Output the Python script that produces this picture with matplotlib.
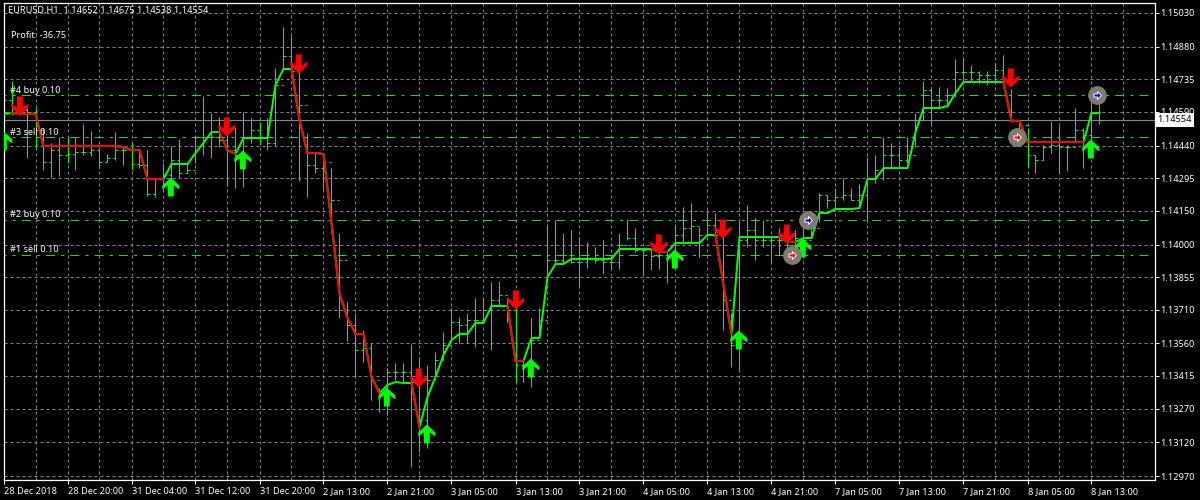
import numpy as np
import matplotlib
matplotlib.use("Agg")
import matplotlib.pyplot as plt
from matplotlib.path import Path

# All prices are in points (1e-5 of EURUSD)
high_pts = [
    114701, 114727, 114656, 114607, 114607, 114518, 114452, 114478, 114478, 114478,
    114536, 114505, 114420, 114403, 114500, 114434, 114452, 114420, 114420, 114296,
    114363, 114438, 114469, 114363, 114483, 114661, 114585, 114567, 114500, 114518,
    114590, 114563, 114545, 114563, 114785, 114968, 114928, 114772, 114496, 114407,
    114398, 114340, 114051, 113744, 113695, 113620, 113562, 113362, 113451, 113473,
    113473, 113557, 113500, 113464, 113522, 113611, 113718, 113678, 113695, 113762,
    113766, 113833, 113838, 113766, 113731, 113486, 113673, 113718, 114091, 114109,
    114051, 114065, 114033, 114011, 113989, 114020, 113944, 114051, 114113, 114073,
    113984, 113975, 113962, 113967, 114091, 114167, 114185, 114078, 114153, 114140,
    114042, 113695, 114109, 114176, 114118, 114109, 114033, 114073, 114011, 114065,
    114078, 114100, 114229, 114220, 114251, 114296, 114251, 114269, 114389, 114398,
    114478, 114452, 114434, 114478, 114585, 114727, 114701, 114701, 114696, 114825,
    114834, 114799, 114772, 114772, 114808, 114843, 114692, 114554, 114518, 114398,
    114443, 114550, 114527, 114443, 114607, 114518, 114701, 114675,
]
low_pts = [
    114376, 114576, 114576, 114385, 114429, 114332, 114296, 114305, 114363, 114332,
    114398, 114394, 114340, 114367, 114376, 114354, 114332, 114340, 114216, 114211,
    114242, 114234, 114296, 114318, 114363, 114398, 114385, 114434, 114260, 114251,
    114256, 114452, 114443, 114420, 114443, 114776, 114776, 114282, 114211, 114318,
    114242, 114051, 113673, 113571, 113411, 113477, 113308, 113255, 113241, 113397,
    113388, 113010, 113077, 113095, 113411, 113486, 113575, 113562, 113562, 113544,
    113651, 113531, 113731, 113651, 113388, 113388, 113366, 113584, 113855, 113918,
    113918, 113918, 113815, 113896, 113918, 113873, 113887, 113891, 114020, 113967,
    113869, 113887, 113891, 113829, 113944, 114007, 114007, 113944, 114042, 114033,
    113620, 113455, 113442, 113989, 113931, 113989, 113922, 113953, 113944, 113944,
    113984, 114029, 114100, 114162, 114153, 114198, 114198, 114162, 114100, 114274,
    114287, 114340, 114340, 114363, 114434, 114554, 114536, 114607, 114612, 114656,
    114723, 114723, 114719, 114710, 114723, 114710, 114545, 114509, 114345, 114318,
    114376, 114407, 114318, 114327, 114456, 114340, 114465, 114538,
]
close_pts = [
    114643, 114607, 114598, 114590, 114509, 114367, 114420, 114398, 114403, 114412,
    114412, 114420, 114367, 114385, 114420, 114420, 114358, 114354, 114225, 114296,
    114309, 114376, 114318, 114332, 114478, 114478, 114478, 114465, 114420, 114398,
    114478, 114509, 114478, 114452, 114710, 114839, 114772, 114621, 114354, 114340,
    114367, 114198, 113931, 113642, 113531, 113539, 113397, 113335, 113433, 113433,
    113433, 113388, 113219, 113397, 113486, 113553, 113655, 113642, 113664, 113664,
    113709, 113753, 113775, 113709, 113464, 113464, 113575, 113664, 113931, 113931,
    113953, 113922, 113922, 113940, 113931, 113922, 113922, 113998, 114029, 113975,
    113975, 113949, 113953, 113953, 114042, 114073, 114082, 114042, 114087, 114042,
    113753, 113553, 114020, 114065, 114020, 114020, 114020, 114020, 113998, 114029,
    114020, 114073, 114220, 114198, 114211, 114220, 114198, 114220, 114296, 114332,
    114398, 114398, 114376, 114398, 114554, 114687, 114643, 114643, 114665, 114768,
    114768, 114768, 114754, 114754, 114776, 114665, 114554, 114532, 114398, 114376,
    114434, 114443, 114434, 114434, 114509, 114487, 114652, 114554,
]
open_first_pts = 114620
signal_pts = [
    114581, 114585, 114581, 114581, 114581, 114438, 114438, 114438, 114438, 114438,
    114438, 114438, 114438, 114438, 114438, 114434, 114420, 114420, 114291, 114291,
    114291, 114358, 114358, 114358, 114407, 114452, 114500, 114500, 114420, 114403,
    114474, 114474, 114474, 114474, 114710, 114781, 114781, 114554, 114407, 114407,
    114403, 114096, 113784, 113673, 113602, 113602, 113411, 113339, 113375, 113388,
    113384, 113384, 113188, 113322, 113411, 113508, 113575, 113602, 113602, 113651,
    113651, 113726, 113726, 113726, 113482, 113482, 113584, 113584, 113855, 113913,
    113913, 113936, 113936, 113936, 113936, 113936, 113936, 113980, 113980, 113980,
    113980, 113980, 113967, 113967, 114007, 114007, 114007, 114007, 114042, 114042,
    113820, 113602, 114033, 114033, 114033, 114033, 114033, 114033, 114011, 114011,
    114029, 114029, 114140, 114140, 114158, 114158, 114158, 114162, 114291, 114291,
    114340, 114340, 114340, 114340, 114500, 114607, 114607, 114607, 114616, 114674,
    114723, 114723, 114723, 114723, 114723, 114723, 114550, 114550, 114456, 114456,
    114456, 114456, 114456, 114456, 114456, 114456, 114585, 114585,
]
# inclusive bar ranges where the signal line is red
red_spans = [(1, 20), (27, 29), (36, 47), (51, 52), (63, 65), (81, 83), (89, 91), (97, 99), (125, 135)]

down_bars = [2, 28, 37, 52, 64, 82, 90, 98, 126]
down_pts = [114576, 114483, 114763, 113366, 113713, 113962, 114029, 114007, 114700]
up_bars = [0, 21, 30, 48, 53, 66, 84, 92, 100, 136]
up_pts = [114505, 114300, 114420, 113366, 113201, 113495, 113980, 113620, 114029, 114469]

order_names = ["#1 sell 0.10", "#2 buy 0.10", "#3 sell 0.10", "#4 buy 0.10"]
order_pts = [113953, 114109, 114477, 114664]
order_bars = [98.55, 100.6, 126.65, 136.65]
order_colors = ["#ff0000", "#0000ff", "#ff0000", "#0000ff"]

price_ticks = [1.15030, 1.14880, 1.14735, 1.14590, 1.14440, 1.14295, 1.14150, 1.14000,
               1.13855, 1.13710, 1.13560, 1.13415, 1.13270, 1.13120, 1.12970]
time_labels = ["28 Dec 2018", "28 Dec 20:00", "31 Dec 04:00", "31 Dec 12:00", "31 Dec 20:00",
               "2 Jan 13:00", "2 Jan 21:00", "3 Jan 05:00", "3 Jan 13:00", "3 Jan 21:00",
               "4 Jan 05:00", "4 Jan 13:00", "4 Jan 21:00", "7 Jan 05:00", "7 Jan 13:00",
               "7 Jan 21:00", "8 Jan 05:00", "8 Jan 13:00"]
last_price = 1.14554
title_text = "EURUSD,H1  1.14652 1.14675 1.14538 1.14554"
profit_text = "Profit: -36.75"

FONT = "Noto Sans"
FS = 6.6
LIME = "#00ff00"
RED = "#ff0000"
GRID = "#778899"
ORDER = "#32cd32"
W, H = 1200, 500
X0, X1, Y0, Y1 = 3.5, 1154.5, 2.5, 479.5

high = np.array(high_pts) / 1e5
low = np.array(low_pts) / 1e5
close = np.array(close_pts) / 1e5
open_ = np.r_[open_first_pts, close_pts[:-1]] / 1e5
signal = np.array(signal_pts) / 1e5
bars = np.arange(len(high))

fig = plt.figure(figsize=(W / 100, H / 100), dpi=100, facecolor="black")
ax = fig.add_axes([X0 / W, 1 - Y1 / H, (X1 - X0) / W, (Y1 - Y0) / H], facecolor="black")
ax.set_xlim(0, (X1 - X0) / 8)
px = (1.15030 - 1.12970) / 463
ax.set_ylim(1.12970 - (Y1 - 476) * px, 1.15030 + (13 - Y0) * px)

# grid
ax.set_xticks(np.arange(0, 8 * len(time_labels), 8))
ax.set_xticklabels(time_labels, family=FONT, fontsize=FS, color="white", ha="left")
ax.yaxis.tick_right()
ax.set_yticks(price_ticks)
ax.set_yticklabels([f"{t:.5f}" for t in price_ticks], family=FONT, fontsize=FS, color="white")
ax.tick_params(axis="x", length=2.6, width=0.72, color="white", pad=2.8)
ax.tick_params(axis="y", length=2.6, width=0.72, color="white", pad=1.4)
grid_style = (0, (3, 3))
for k in np.arange(4, 144, 4):
    ax.axvline(k, color=GRID, lw=0.72, ls=grid_style, zorder=0)
for t in price_ticks:
    ax.axhline(t, color=GRID, lw=0.72, ls=grid_style, zorder=0)

for name in ("left", "right", "bottom", "top"):
    ax.spines[name].set_color("white")
    ax.spines[name].set_linewidth(0.9)

# order lines
for y in order_pts:
    ax.axhline(y / 1e5, color=ORDER, lw=0.72, ls=(7.1, (9, 6.2, 3, 6.1)), zorder=1)
ax.axhline(last_price, color=GRID, lw=0.8, zorder=1)

# OHLC bars
ax.vlines(bars, low, high, color=LIME, lw=0.72, zorder=2)
ax.hlines(open_, bars - 0.31, bars, color=LIME, lw=0.72, zorder=2)
ax.hlines(close, bars, bars + 0.31, color=LIME, lw=0.72, zorder=2)

# signal line
ax.plot(bars, signal, color=LIME, lw=1.45, solid_joinstyle="round", zorder=3)
for a, b in red_spans:
    ax.plot(bars[a:b + 1], signal[a:b + 1], color=RED, lw=1.45, solid_joinstyle="round", zorder=3)

# arrows
up_verts = [(0, 0), (8.5, -8), (8.5, -12), (3, -8), (3, -19), (-3, -19), (-3, -8), (-8.5, -12), (-8.5, -8), (0, 0)]
up_path = Path([(x - 0.7, y) for x, y in up_verts], closed=True)
down_path = Path([(x - 0.7, -y) for x, y in up_verts], closed=True)
ms = 2 * 19 * 72 / 100
ax.plot(up_bars, np.array(up_pts) / 1e5, ls="", marker=up_path, ms=ms, mfc=LIME, mew=0, zorder=5)
ax.plot(down_bars, np.array(down_pts) / 1e5, ls="", marker=down_path, ms=ms, mfc=RED, mew=0, zorder=5)

# order markers
right_path = Path([(-4.5, -2), (0, -2), (0, -5), (5, 0), (0, 5), (0, 2), (-4.5, 2), (-4.5, -2)], closed=True)
ax.plot(order_bars, np.array(order_pts) / 1e5, ls="", marker="o", ms=13.5, mfc="#807a70", mew=0, zorder=6)
for xb, y, c in zip(order_bars, order_pts, order_colors):
    ax.plot([xb], [y / 1e5], ls="", marker=right_path, ms=5.6, mfc=c, mec="white", mew=0.7, zorder=7)

# texts
for y, name in zip(order_pts, order_names):
    ax.annotate(name, (0, y / 1e5), xytext=(6.5 / 100 * 72, 0.5), textcoords="offset points",
                family=FONT, fontsize=FS, color="white", va="bottom", ha="left", zorder=8)
fig.text(7.5 / W, 1 - 10.5 / H, title_text, family=FONT, fontsize=FS, color="white", va="center", ha="left")
fig.text(10.5 / W, 1 - 35.5 / H, profit_text, family=FONT, fontsize=FS, color="white", va="center", ha="left")

# current price tag
ax.annotate(f"{last_price:.5f}", (1, last_price), xycoords=("axes fraction", "data"), xytext=(2.2, 0),
            textcoords="offset points", family=FONT, fontsize=FS, color="black", va="center", ha="left",
            bbox=dict(boxstyle="square,pad=0.22", fc="white", ec="white", lw=0), zorder=9, annotation_clip=False)

fig.savefig("out.png", dpi=100, facecolor="black")
